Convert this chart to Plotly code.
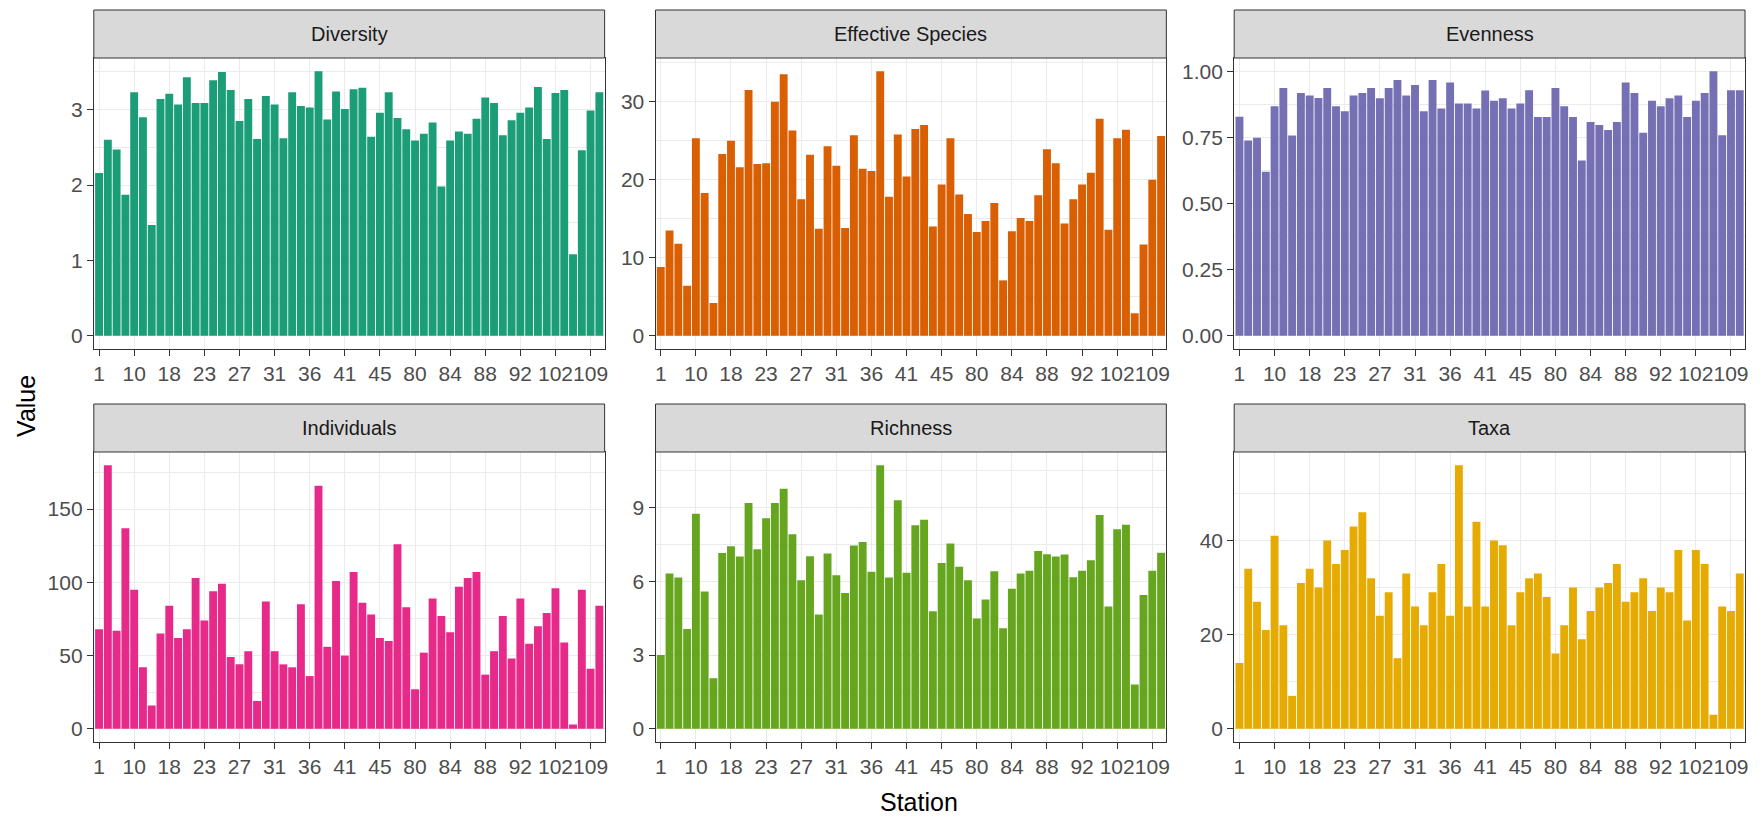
import plotly.graph_objects as go

stations = ["1", "3", "5", "7",
            "10", "12", "14", "16",
            "18", "19", "20", "22",
            "23", "24", "25", "26",
            "27", "28", "29", "30",
            "31", "32", "33", "34",
            "36", "37", "38", "39",
            "41", "42", "43", "44",
            "45", "46", "47", "48",
            "80", "81", "82", "83",
            "84", "85", "86", "87",
            "88", "89", "90", "91",
            "92", "94", "96", "99",
            "102", "104", "106", "108",
            "109", "110"]

tick_labels = ["1", "10", "18", "23", "27", "31", "36", "41", "45",
               "80", "84", "88", "92", "102", "109"]

diversity = [2.16, 2.60, 2.47, 1.87,
             3.23, 2.90, 1.47, 3.14,
             3.21, 3.07, 3.43, 3.09,
             3.09, 3.39, 3.50, 3.26,
             2.85, 3.14, 2.61, 3.18,
             3.07, 2.62, 3.23, 3.05,
             3.03, 3.51, 2.87, 3.24,
             3.01, 3.27, 3.29, 2.64,
             2.96, 3.23, 2.89, 2.74,
             2.59, 2.68, 2.83, 1.98,
             2.59, 2.71, 2.68, 2.88,
             3.16, 3.09, 2.66, 2.86,
             2.96, 3.03, 3.30, 2.61,
             3.22, 3.26, 1.08, 2.46,
             2.99, 3.23]

effective_species = [8.8, 13.5, 11.8, 6.4,
                     25.3, 18.3, 4.2, 23.3,
                     25.0, 21.6, 31.5, 22.0,
                     22.1, 30.0, 33.5, 26.3,
                     17.5, 23.2, 13.7, 24.3,
                     21.8, 13.8, 25.7, 21.4,
                     21.1, 33.9, 17.8, 25.8,
                     20.4, 26.5, 27.0, 14.0,
                     19.4, 25.3, 18.1, 15.6,
                     13.3, 14.7, 17.0, 7.1,
                     13.4, 15.1, 14.7, 18.0,
                     23.9, 22.1, 14.4, 17.5,
                     19.4, 20.9, 27.8, 13.6,
                     25.3, 26.4, 2.9, 11.7,
                     20.0, 25.6]

evenness = [0.828, 0.738, 0.749, 0.620,
            0.868, 0.937, 0.757, 0.918,
            0.908, 0.899, 0.937, 0.868,
            0.849, 0.908, 0.918, 0.937,
            0.898, 0.937, 0.967, 0.908,
            0.948, 0.849, 0.967, 0.859,
            0.957, 0.878, 0.878, 0.859,
            0.927, 0.888, 0.898, 0.859,
            0.878, 0.928, 0.827, 0.827,
            0.937, 0.868, 0.827, 0.663,
            0.808, 0.797, 0.778, 0.808,
            0.957, 0.918, 0.767, 0.888,
            0.868, 0.898, 0.908, 0.827,
            0.888, 0.918, 1.000, 0.758,
            0.928, 0.928]

individuals = [68, 180, 67, 137,
               95, 42, 16, 65,
               84, 62, 68, 103,
               74, 94, 99, 49,
               44, 53, 19, 87,
               53, 44, 42, 85,
               36, 166, 56, 101,
               50, 107, 86, 78,
               62, 60, 126, 83,
               27, 52, 89, 77,
               66, 97, 103, 107,
               37, 53, 77, 48,
               89, 58, 70, 79,
               96, 59, 3, 95,
               41, 84]

richness = [3.00, 6.32, 6.16, 4.06,
            8.75, 5.59, 2.06, 7.16,
            7.43, 7.01, 9.19, 7.31,
            8.57, 9.19, 9.77, 7.92,
            6.05, 7.02, 4.65, 7.14,
            6.25, 5.53, 7.46, 7.60,
            6.39, 10.73, 6.16, 9.30,
            6.35, 8.29, 8.51, 4.79,
            6.75, 7.54, 6.60, 6.05,
            4.49, 5.26, 6.41, 4.09,
            5.70, 6.32, 6.43, 7.24,
            7.10, 7.01, 7.09, 6.17,
            6.43, 6.86, 8.70, 4.98,
            8.12, 8.31, 1.80, 5.45,
            6.43, 7.17]

taxa = [14, 34, 27, 21,
        41, 22, 7, 31,
        34, 30, 40, 35,
        38, 43, 46, 32,
        24, 29, 15, 33,
        26, 22, 29, 35,
        24, 56, 26, 44,
        26, 40, 39, 22,
        29, 32, 33, 28,
        16, 22, 30, 19,
        25, 30, 31, 35,
        27, 29, 32, 25,
        30, 29, 38, 23,
        38, 35, 3, 26,
        25, 33]

panel_names = ["Diversity", "Effective Species", "Evenness",
               "Individuals", "Richness", "Taxa"]
panel_values = [diversity, effective_species, evenness,
                individuals, richness, taxa]
panel_colors = ["#1B9E77", "#D95F02", "#7570B3",
                "#E7298A", "#66A61E", "#E6AB02"]
panel_dticks = [1, 10, 0.25, 50, 3, 20]
panel_formats = ["", "", ".2f", "", "", ""]

W, H = 1760, 818
cols = [(93, 605), (656, 1168), (1236, 1748)]
rows = [(10, 58, 349), (404, 452, 742)]  # strip top, panel top, panel bottom

FONT = "Liberation Sans, Arial, Helvetica, sans-serif"
GRID = "#EBEBEB"
BORDER = "#333333"

fig = go.Figure()
layout = {}
shapes = []
annotations = []

for k, name in enumerate(panel_names):
    r, c = divmod(k, 3)
    sfx = "" if k == 0 else str(k + 1)
    vals = panel_values[k]
    fig.add_trace(go.Bar(
        x=stations, y=vals,
        marker=dict(color=panel_colors[k], line=dict(width=0)),
        xaxis="x" + sfx, yaxis="y" + sfx, showlegend=False,
        hovertemplate="Station %{x}<br>" + name + ": %{y}<extra></extra>",
    ))
    x0, x1 = cols[c]
    st, pt, pb = rows[r]
    vmax = max(vals)
    layout["xaxis" + sfx] = dict(
        domain=[x0 / W, x1 / W], anchor="y" + sfx,
        type="category", categoryorder="array", categoryarray=stations,
        range=[-0.6, len(stations) - 0.4],
        tickmode="array", tickvals=tick_labels, ticktext=tick_labels,
        showgrid=True, gridcolor=GRID, gridwidth=1,
        showline=True, mirror=True, linecolor=BORDER, linewidth=1,
        ticks="outside", ticklen=6, tickwidth=1, tickcolor=BORDER,
        tickfont=dict(family=FONT, size=21, color="#4D4D4D"),
        tickangle=0, fixedrange=True, zeroline=False,
    )
    dt = panel_dticks[k]
    layout["yaxis" + sfx] = dict(
        domain=[1 - pb / H, 1 - pt / H], anchor="x" + sfx,
        range=[-0.05 * vmax, 1.05 * vmax],
        tickmode="linear", tick0=0, dtick=dt,
        tickformat=panel_formats[k],
        showgrid=True, gridcolor=GRID, gridwidth=1,
        minor=dict(tickmode="linear", tick0=0, dtick=dt / 2, showgrid=True,
                   gridcolor=GRID, gridwidth=0.6, ticklen=0),
        showline=True, mirror=True, linecolor=BORDER, linewidth=1,
        ticks="outside", ticklen=6, tickwidth=1, tickcolor=BORDER,
        tickfont=dict(family=FONT, size=21, color="#4D4D4D"),
        zeroline=False, fixedrange=True,
    )
    shapes.append(dict(
        type="rect", xref="paper", yref="paper",
        x0=x0 / W, x1=x1 / W, y0=1 - pt / H, y1=1 - st / H,
        fillcolor="#D9D9D9", line=dict(color=BORDER, width=1), layer="above",
    ))
    annotations.append(dict(
        text=name, xref="paper", yref="paper",
        x=(x0 + x1) / 2 / W, y=1 - (st + pt) / 2 / H,
        xanchor="center", yanchor="middle", showarrow=False,
        font=dict(family=FONT, size=20, color="#1A1A1A"),
    ))

annotations.append(dict(
    text="Station", xref="paper", yref="paper",
    x=920 / W, y=1 - 802 / H, xanchor="center", yanchor="middle",
    showarrow=False, font=dict(family=FONT, size=25, color="#000000"),
))
annotations.append(dict(
    text="Value", xref="paper", yref="paper",
    x=25 / W, y=1 - 406 / H, xanchor="center", yanchor="middle",
    textangle=-90, showarrow=False,
    font=dict(family=FONT, size=25, color="#000000"),
))

fig.update_layout(
    width=W, height=H,
    margin=dict(l=0, r=0, t=0, b=0, pad=0),
    paper_bgcolor="white", plot_bgcolor="white",
    bargap=0.1,
    shapes=shapes, annotations=annotations,
    font=dict(family=FONT),
    **layout,
)

fig.write_html("out.html",
               config={"displayModeBar": False},
               post_script="document.body.style.margin='0';"
                           "document.body.style.overflow='hidden';")
